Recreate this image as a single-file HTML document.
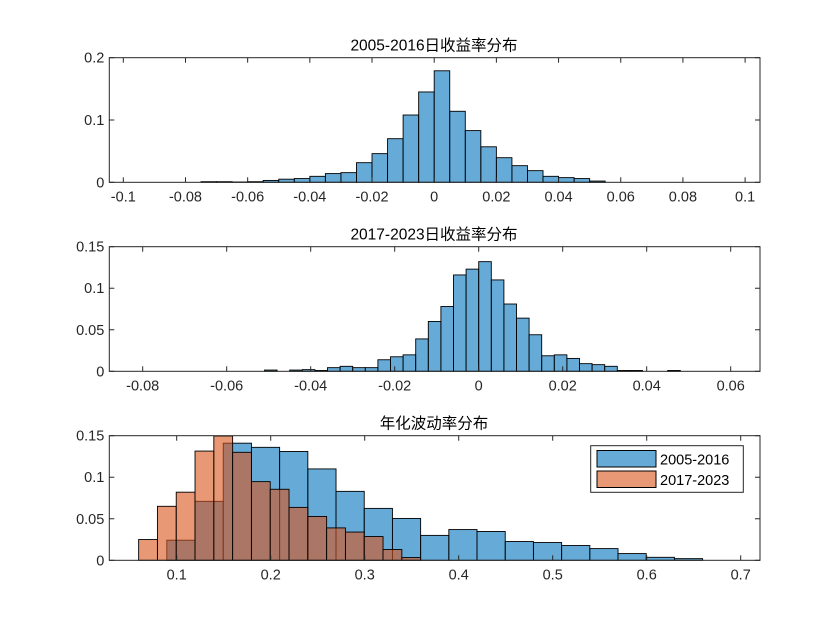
<!DOCTYPE html>
<html><head><meta charset="utf-8"><style>
body{margin:0;background:#fff;}
svg{display:block;font-family:"Liberation Sans","Noto Sans CJK SC",sans-serif;}
</style></head><body>
<svg id="c" width="840" height="630" xmlns="http://www.w3.org/2000/svg"></svg>
<script>
// Panel 1: 2005-2016 daily returns (bin width 0.005)
const p1Start = -0.075, p1Width = 0.005;
const p1Values = [0.001,0.001,0.0005,0.001,0.003,0.005,0.006,0.0096,0.014,0.0155,0.0315,0.046,0.070,0.108,0.145,0.179,0.114,0.083,0.057,0.0395,0.0267,0.0187,0.0096,0.0075,0.006,0.002];
const p1XTicks = [-0.1,-0.08,-0.06,-0.04,-0.02,0,0.02,0.04,0.06,0.08,0.1];
const p1XLabels = ["-0.1","-0.08","-0.06","-0.04","-0.02","0","0.02","0.04","0.06","0.08","0.1"];
const p1YTicks = [0,0.1,0.2];
const p1YLabels = ["0","0.1","0.2"];
// Panel 2: 2017-2023 daily returns (bin width 0.003)
const p2Start = -0.051, p2Width = 0.003;
const p2Values = [0.0015,0,0.0015,0.002,0.001,0.0044,0.006,0.0044,0.0044,0.0139,0.0175,0.0198,0.039,0.060,0.078,0.116,0.123,0.132,0.110,0.081,0.064,0.044,0.0187,0.0198,0.0155,0.0092,0.008,0.006,0.001,0.001,0,0,0.001];
const p2XTicks = [-0.08,-0.06,-0.04,-0.02,0,0.02,0.04,0.06];
const p2XLabels = ["-0.08","-0.06","-0.04","-0.02","0","0.02","0.04","0.06"];
const p2YTicks = [0,0.05,0.1,0.15];
const p2YLabels = ["0","0.05","0.1","0.15"];
// Panel 3: annualized volatility
const p3BlueStart = 0.0895, p3BlueWidth = 0.03;
const p3BlueValues = [0.0242,0.071,0.141,0.136,0.131,0.110,0.083,0.0625,0.0504,0.030,0.037,0.0347,0.0226,0.0214,0.0178,0.0141,0.0081,0.0036,0.002];
const p3OrangeStart = 0.0595, p3OrangeWidth = 0.02;
const p3OrangeValues = [0.025,0.065,0.082,0.1315,0.1496,0.130,0.0947,0.0855,0.0637,0.0528,0.039,0.034,0.0286,0.013,0.0033];
const p3XTicks = [0.1,0.2,0.3,0.4,0.5,0.6,0.7];
const p3XLabels = ["0.1","0.2","0.3","0.4","0.5","0.6","0.7"];
const p3YTicks = [0,0.05,0.1,0.15];
const p3YLabels = ["0","0.05","0.1","0.15"];

const svg = document.getElementById('c');
const NS = 'http://www.w3.org/2000/svg';
function mk(tag, attrs, parent){const e=document.createElementNS(NS,tag);for(const k in attrs)e.setAttribute(k,attrs[k]);(parent||svg).appendChild(e);return e;}

function axes(cfg){
  const g = mk('g',{});
  
  
  const L=109.3,R=760,T=cfg.top,B=cfg.top+124.6;
  const sx=v=>cfg.x0px+(v-cfg.x0)*cfg.xs;
  const sy=v=>B-(v-0)*(B-T)/cfg.ymax;
  mk('rect',{x:L,y:T,width:R-L,height:B-T,fill:'#fff'},g);
  cfg.series.forEach(s=>{
    s.values.forEach((v,i)=>{
      if(v<=0) return;
      const x1=sx(s.start+i*s.width), x2=sx(s.start+(i+1)*s.width);
      const r=mk('rect',{x:x1,y:sy(v),width:x2-x1,height:B-sy(v),fill:s.color,'fill-opacity':0.6,stroke:'#000','stroke-width':0.9},g);
      
      
    });
  });
  cfg.xticks.forEach((t,i)=>{
    const x=sx(t);
    mk('line',{x1:x,x2:x,y1:B,y2:B-5,stroke:'#262626'},g);
    mk('line',{x1:x,x2:x,y1:T,y2:T+5,stroke:'#262626'},g);
    const tx=mk('text',{x:x,y:B+19,'text-anchor':'middle','font-size':14.5,fill:'#262626'},g);
    tx.textContent=cfg.xlabels[i];
    
    
  });
  cfg.yticks.forEach((t,i)=>{
    const y=sy(t);
    mk('line',{x1:L,x2:L+5,y1:y,y2:y,stroke:'#262626'},g);
    mk('line',{x1:R,x2:R-5,y1:y,y2:y,stroke:'#262626'},g);
    const tx=mk('text',{x:L-5,y:y+5,'text-anchor':'end','font-size':14.5,fill:'#262626'},g);
    tx.textContent=cfg.ylabels[i];
    
    
  });
  mk('rect',{x:L,y:T,width:R-L,height:B-T,fill:'none',stroke:'#262626','stroke-width':1},g);
  const ti=mk('text',{x:434,y:T-7,'text-anchor':'middle','font-size':15.5,fill:'#000'},g);
  ti.textContent=cfg.title;
  
  
}

axes({name:'returns-2005-2016-panel',top:57.7,x0:0,x0px:434.2,xs:3109,ymax:0.2,
  series:[{start:p1Start,width:p1Width,values:p1Values,color:'#0072BD',barName:'returns-2005'}],
  xticks:p1XTicks,xlabels:p1XLabels,yticks:p1YTicks,ylabels:p1YLabels,title:'2005-2016日收益率分布'});
axes({name:'returns-2017-2023-panel',top:246.7,x0:0,x0px:478.7,xs:4200,ymax:0.15,
  series:[{start:p2Start,width:p2Width,values:p2Values,color:'#0072BD',barName:'returns-2017'}],
  xticks:p2XTicks,xlabels:p2XLabels,yticks:p2YTicks,ylabels:p2YLabels,title:'2017-2023日收益率分布'});
axes({name:'volatility-panel',top:435.7,x0:0.1,x0px:176.7,xs:940,ymax:0.15,
  series:[{start:p3BlueStart,width:p3BlueWidth,values:p3BlueValues,color:'#0072BD',barName:'vol-2005'},
          {start:p3OrangeStart,width:p3OrangeWidth,values:p3OrangeValues,color:'#D95319',barName:'vol-2017'}],
  xticks:p3XTicks,xlabels:p3XLabels,yticks:p3YTicks,ylabels:p3YLabels,title:'年化波动率分布'});
</script>
<svg style="position:absolute;left:0;top:0" width="840" height="630" xmlns="http://www.w3.org/2000/svg">
  <g font-family="Liberation Sans, sans-serif">
    <rect x="590.7" y="445.7" width="152.6" height="46.6" fill="#fff" stroke="#262626" stroke-width="1"/>
    <g>
      <rect x="597" y="450.5" width="59" height="16.5" fill="#0072BD" fill-opacity="0.6" stroke="#000"/>
      <text x="660" y="464.5" font-size="14.5" fill="#000">2005-2016</text>
    </g>
    <g>
      <rect x="597" y="471" width="59" height="16.5" fill="#D95319" fill-opacity="0.6" stroke="#000"/>
      <text x="660" y="485" font-size="14.5" fill="#000">2017-2023</text>
    </g>
  </g>
</svg>
</body></html>
